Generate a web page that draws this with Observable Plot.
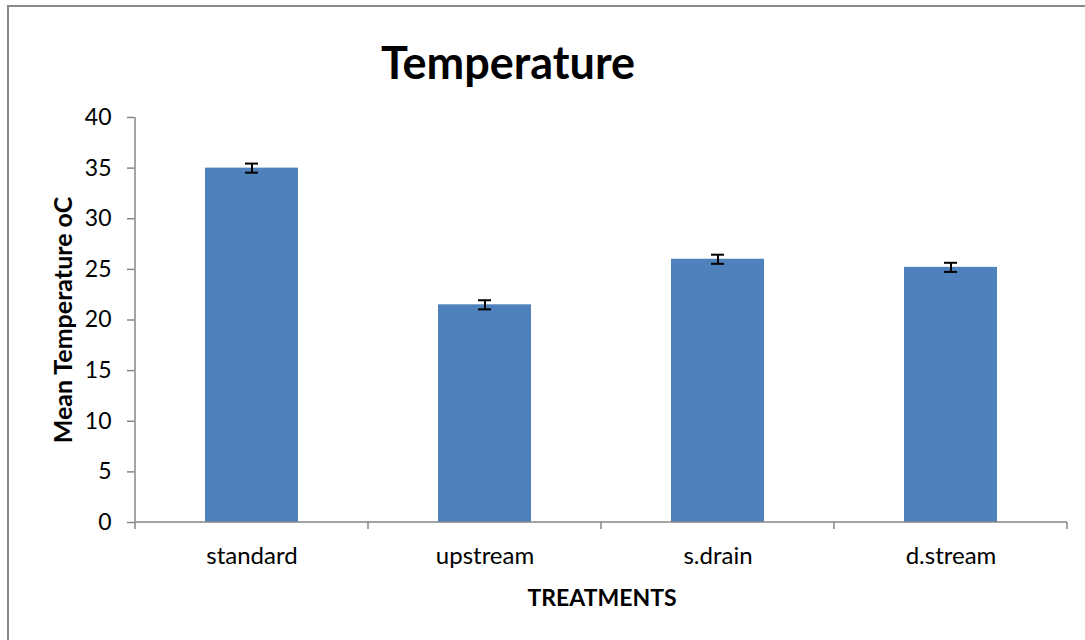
<!DOCTYPE html>
<html>
<head>
<meta charset="utf-8">
<script src="https://cdn.jsdelivr.net/npm/d3@7"></script>
<script src="https://cdn.jsdelivr.net/npm/@observablehq/plot@0.6"></script>
<style>
  html, body { margin: 0; padding: 0; background: #fff; }
  #wrap { position: relative; width: 1085px; height: 640px; overflow: hidden; font-family: Lato, "Open Sans", sans-serif; }
  #frame { position: absolute; left: 7px; top: 5px; width: 1200px; height: 800px; border-left: 2px solid #888; border-top: 2px solid #888; }
  #title { position: absolute; left: 0; width: 1016px; top: 35px; text-align: center; font-size: 45px; font-weight: bold; color: #000; line-height: 54px; }
  #chart { position: absolute; left: 0; top: 0; }
</style>
</head>
<body>
<div id="wrap">
  <div id="frame"></div>
  <div id="chart"></div>
  <div id="title">Temperature</div>
</div>
<script>
const categories = ["standard", "upstream", "s.drain", "d.stream"];
const means = [35.0, 21.5, 26.0, 25.2];
const errors = [0.45, 0.45, 0.45, 0.45];
const yTicks = [0, 5, 10, 15, 20, 25, 30, 35, 40];

const data = categories.map((c, i) => ({cat: c, mean: means[i], err: errors[i]}));

const axisColor = "#868686";

const axisLines = (index, scales, values, dims) => {
  const x = scales.x;
  const step = x.step(), bw = x.bandwidth();
  const off = (step - bw) / 2;
  const yb = dims.height - dims.marginBottom;
  const yt = dims.marginTop;
  const g = d3.create("svg:g").attr("stroke", axisColor).attr("stroke-width", 1.5);
  const xs = categories.map(c => x(c) - off);
  xs.push(x(categories[categories.length - 1]) + bw + off);
  for (const px of xs) {
    g.append("line").attr("x1", px).attr("x2", px).attr("y1", yb).attr("y2", yb + 7);
  }
  g.append("line").attr("x1", xs[0]).attr("x2", xs[xs.length - 1]).attr("y1", yb).attr("y2", yb);
  g.append("line").attr("x1", xs[0]).attr("x2", xs[0]).attr("y1", yt).attr("y2", yb);
  return g.node();
};

const chart = Plot.plot({
  width: 1085,
  height: 640,
  marginLeft: 134,
  marginRight: 16,
  marginTop: 117,
  marginBottom: 118,
  style: {fontFamily: "Lato, 'Open Sans', sans-serif", background: "transparent", color: "#000"},
  x: {domain: categories, paddingInner: 0.6, paddingOuter: 0.3},
  y: {domain: [0, 40]},
  marks: [
    Plot.barY(data, {x: "cat", y: "mean", fill: "#4F81BD"}),
    Plot.axisY({ticks: yTicks, tickSize: 7, tickPadding: 16, fontSize: 23, stroke: axisColor, strokeWidth: 1.5, label: null, fill: "#000"}),
    Plot.axisX({tickSize: 0, tickPadding: 24, fontSize: 24, label: null, fill: "#000"}),
    axisLines,
    Plot.ruleX(data, {x: "cat", y1: d => d.mean - d.err, y2: d => d.mean + d.err, stroke: "#000", strokeWidth: 2}),
    Plot.tickY(data, {x: "cat", y: d => d.mean - d.err, stroke: "#000", strokeWidth: 2, inset: 40}),
    Plot.tickY(data, {x: "cat", y: d => d.mean + d.err, stroke: "#000", strokeWidth: 2, inset: 40}),
    Plot.text(["TREATMENTS"], {frameAnchor: "bottom", dy: 83, fontSize: 23, fontWeight: "bold", fill: "#000"}),
    Plot.text(["Mean Temperature oC"], {frameAnchor: "left", dx: -71, rotate: -90, textAnchor: "middle", fontSize: 25, fontWeight: "bold", fill: "#000"})
  ]
});
document.getElementById("chart").appendChild(chart);
</script>
</body>
</html>
